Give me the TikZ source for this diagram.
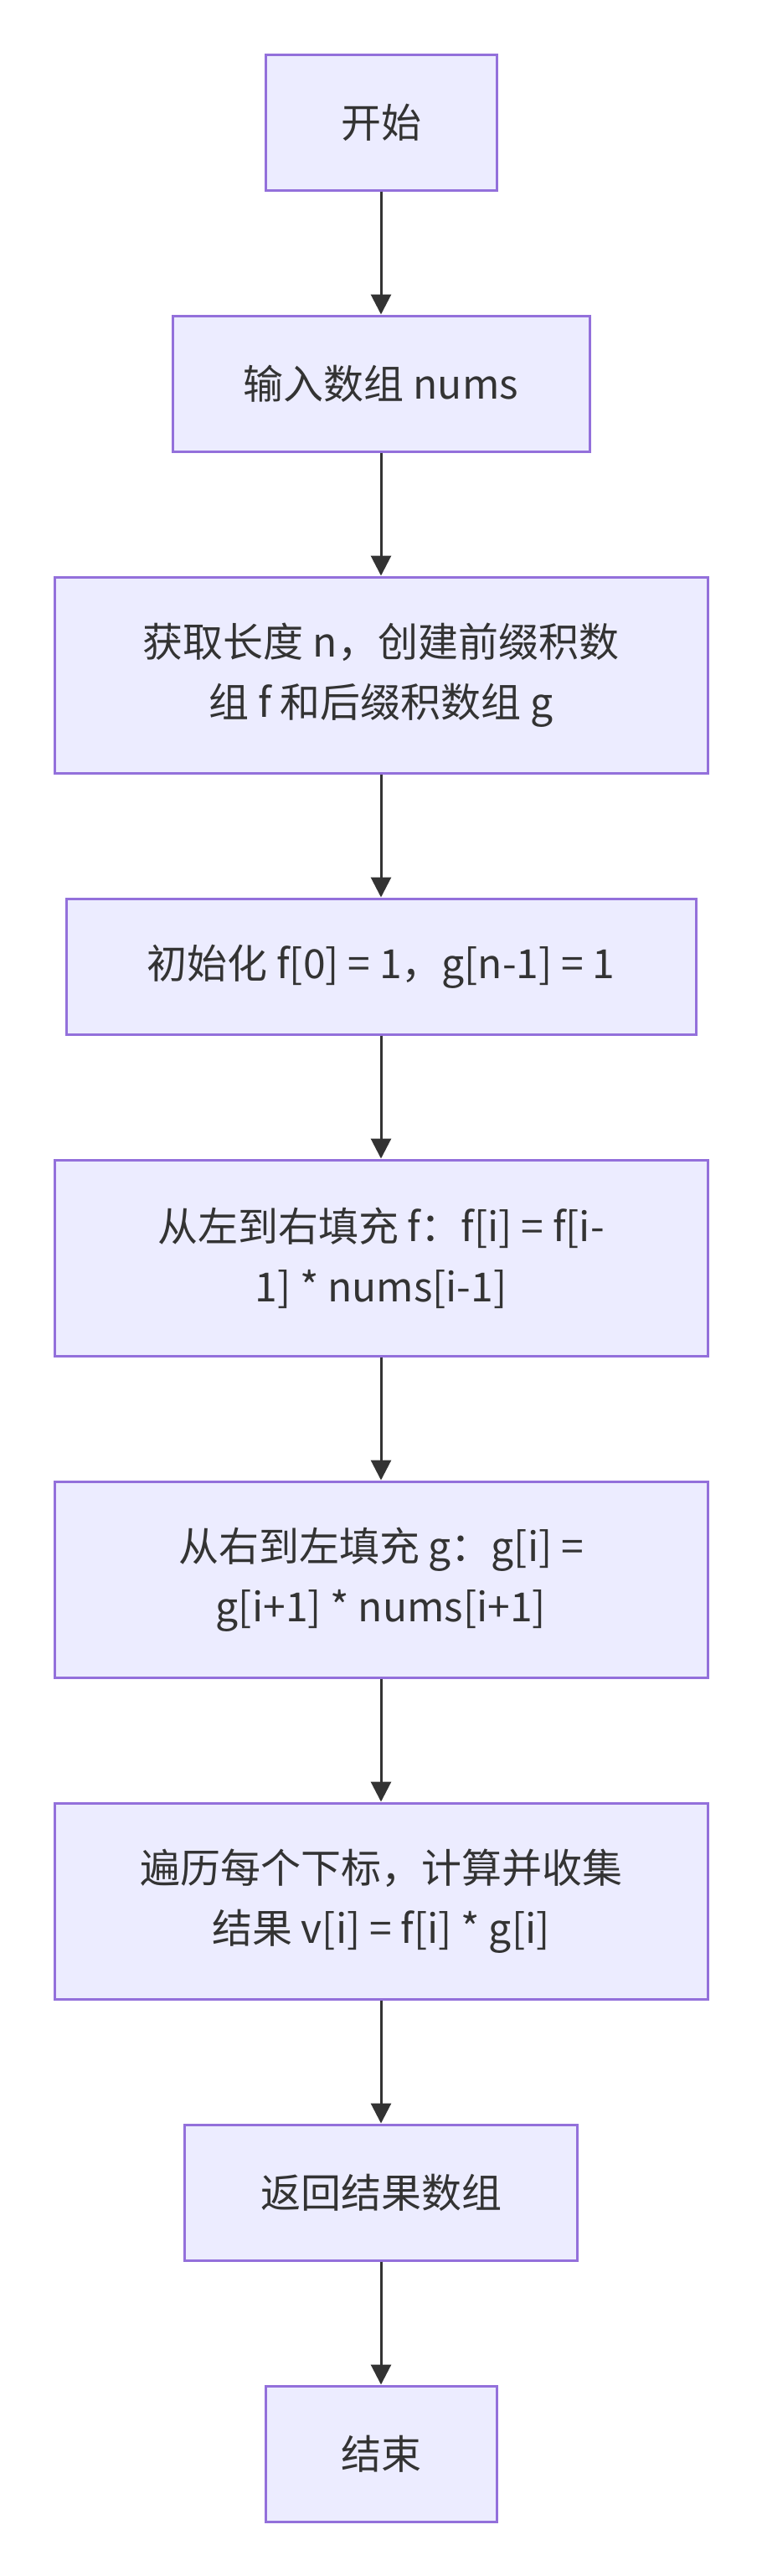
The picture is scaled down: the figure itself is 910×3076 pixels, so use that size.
\documentclass[tikz,border=0pt]{standalone}
\usepackage{fontspec}
\setmainfont{Noto Sans CJK SC}
\usetikzlibrary{arrows.meta}
\definecolor{boxfill}{HTML}{ECECFF}
\definecolor{boxline}{HTML}{9370DB}
\definecolor{ink}{HTML}{333333}
\begin{document}
\begin{tikzpicture}[x=1pt,y=-1pt,
  flowbox/.style={draw=boxline, fill=boxfill, line width=3pt, inner sep=0pt,
    align=center, text=ink, font=\fontsize{48}{72}\selectfont},
  flowedge/.style={draw=ink, line width=3pt, -{Triangle[length=24pt,width=24pt]}}]
\useasboundingbox[fill=white] (0,0) rectangle (910,3076);
\node[flowbox, minimum width=276pt, minimum height=162pt] (n1) at (455,146) {开始};
\node[flowbox, minimum width=498pt, minimum height=162pt] (n2) at (455,458) {输入数组 nums};
\node[flowbox, minimum width=780pt, minimum height=234pt] (n3) at (455,806) {获取长度 n，创建前缀积数\\组 f 和后缀积数组 g};
\node[flowbox, minimum width=752pt, minimum height=162pt] (n4) at (455,1154) {初始化 f[0] = 1，g[n-1] = 1};
\node[flowbox, minimum width=780pt, minimum height=234pt] (n5) at (455,1502) {从左到右填充 f：f[i] = f[i-\\1] * nums[i-1]};
\node[flowbox, minimum width=780pt, minimum height=234pt] (n6) at (455,1886) {从右到左填充 g：g[i] =\\g[i+1] * nums[i+1]};
\node[flowbox, minimum width=780pt, minimum height=234pt] (n7) at (455,2270) {遍历每个下标，计算并收集\\结果 v[i] = f[i] * g[i]};
\node[flowbox, minimum width=469pt, minimum height=162pt] (n8) at (455,2618) {返回结果数组};
\node[flowbox, minimum width=276pt, minimum height=162pt] (n9) at (455,2930) {结束};
\draw[flowedge] (n1.south) -- (n2.north);
\draw[flowedge] (n2.south) -- (n3.north);
\draw[flowedge] (n3.south) -- (n4.north);
\draw[flowedge] (n4.south) -- (n5.north);
\draw[flowedge] (n5.south) -- (n6.north);
\draw[flowedge] (n6.south) -- (n7.north);
\draw[flowedge] (n7.south) -- (n8.north);
\draw[flowedge] (n8.south) -- (n9.north);
\end{tikzpicture}
\end{document}
